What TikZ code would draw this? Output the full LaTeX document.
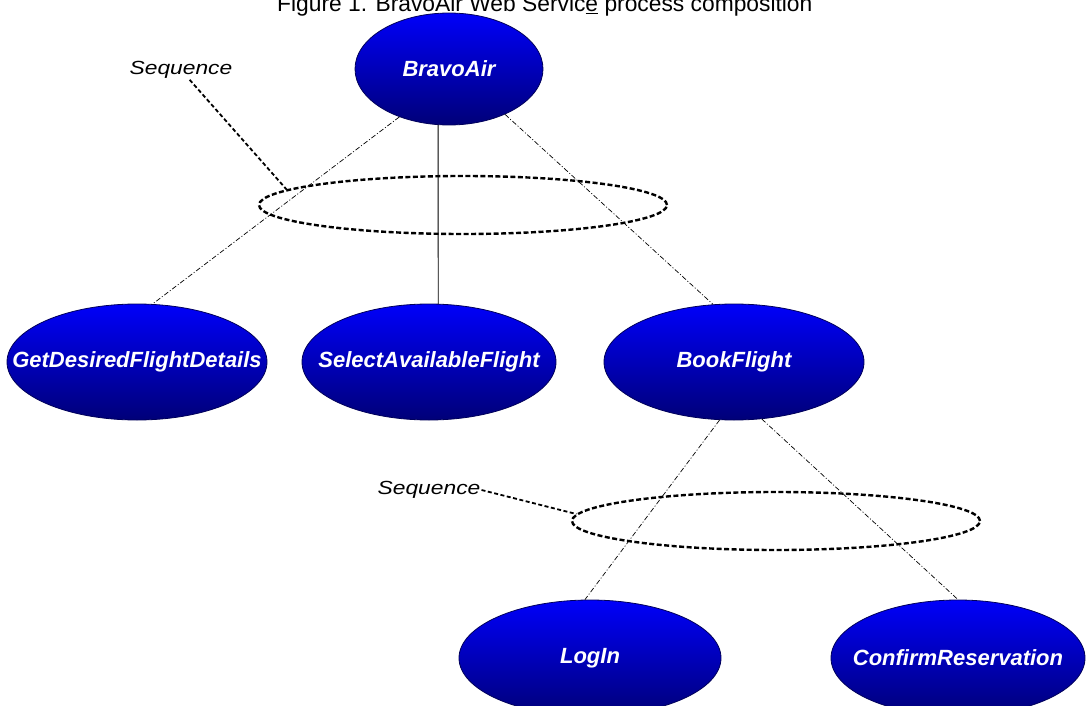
\documentclass[tikz,border=0pt]{standalone}
\usepackage{fontspec}
\usepackage{graphicx}
\setmainfont{Liberation Sans}
\usetikzlibrary{shapes.geometric}
\definecolor{btop}{RGB}{0,0,250}
\definecolor{bmid}{RGB}{0,0,220}
\definecolor{bbot}{RGB}{0,0,120}
\definecolor{bline}{RGB}{0,0,90}
\tikzset{
  task/.style={ellipse, draw=bline, line width=0.8pt, top color=btop, middle color=bmid, bottom color=bbot,
    inner sep=0pt, text=white, font=\fontsize{22}{26}\selectfont\bfseries\itshape},
  seqring/.style={ellipse, draw=black, line width=2.4pt, dash pattern=on 5pt off 2.5pt, inner sep=0pt,
    minimum width=408pt, minimum height=58pt},
  seqlabel/.style={font=\fontsize{19}{22}\selectfont\itshape, inner sep=1pt},
  link/.style={line width=0.7pt, dash pattern=on 5pt off 2pt on 1pt off 2pt},
  solidlink/.style={line width=0.9pt},
  leader/.style={line width=1.8pt, dash pattern=on 4pt off 2.5pt},
}
\begin{document}
\begin{tikzpicture}[x=1pt, y=-1pt]
\fill[white] (0,0) rectangle (1087,706);
\useasboundingbox (0,0) rectangle (1087,706);
\clip (0,0) rectangle (1087,706);

\node[anchor=base west, inner sep=0pt, font=\fontsize{22.8}{26}\selectfont] (title) at (277,12)
  {Figure 1. BravoAir Web Servic\underline{e} process composition};

\node[task, minimum width=188pt, minimum height=112pt] (bravo) at (449,69) {\makebox[0pt]{BravoAir}};
\node[task, minimum width=260pt, minimum height=116pt] (getd) at (137,362) {\makebox[0pt]{GetDesiredFlightDetails}};
\node[task, minimum width=254pt, minimum height=116pt] (select) at (429,362) {\makebox[0pt]{SelectAvailableFlight}};
\node[task, minimum width=260pt, minimum height=116pt] (book) at (734,362) {\makebox[0pt]{BookFlight}};
\node[task, minimum width=262pt, minimum height=116pt] (login) at (590,658) {\makebox[0pt]{LogIn}};
\node[task, minimum width=254pt, minimum height=116pt] (confirm) at (958,658) {\makebox[0pt]{ConfirmReservation}};

\node[seqring] (seq1) at (463,205) {};
\node[seqring] (seq2) at (776,521) {};

\node[seqlabel] (lab1) at (181,70) {\scalebox{1.2}[1]{Sequence}};
\node[seqlabel] (lab2) at (429,490) {\scalebox{1.2}[1]{Sequence}};

\draw[link] (bravo.224) -- (getd.75);
\draw[solidlink] (bravo.259) -- (select.81);
\draw[link] (bravo.321) -- (book.110);
\draw[link] (book.256) -- (login.95);
\draw[link] (book.296) -- (confirm.90);

\draw[leader] (lab1) -- (seq1.175);
\draw[leader] (lab2.east) -- (seq2.178);
\end{tikzpicture}
\end{document}
